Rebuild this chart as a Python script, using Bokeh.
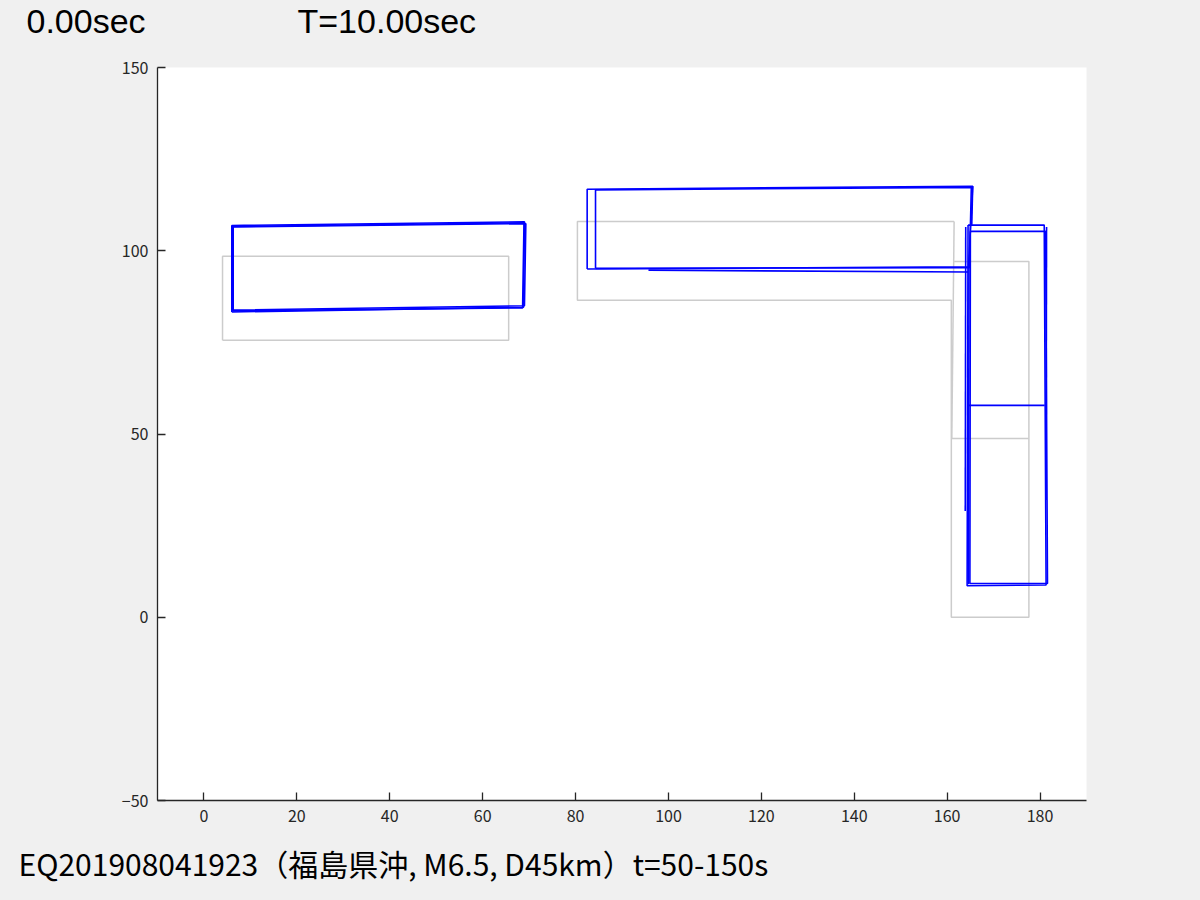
from bokeh.plotting import figure
from bokeh.models import FixedTicker, Range1d
from bokeh.layouts import column
from bokeh.core.properties import value
from bokeh.embed import file_html
from bokeh.resources import INLINE

# ---------------- data ----------------
x_ticks = [0, 20, 40, 60, 80, 100, 120, 140, 160, 180]
y_ticks = [-50, 0, 50, 100, 150]
y_tick_labels = {-50: "\u221250", 0: "0", 50: "50", 100: "100", 150: "150"}

# original (undeformed) plan, grey
gray_xs = [
    [4.0, 65.6, 65.6, 4.0, 4.0],
    [161.5, 80.4, 80.4, 160.9, 160.9, 177.6, 177.6, 161.5],
    [161.5, 161.0],
    [161.0, 177.6],
]
gray_ys = [
    [75.6, 75.6, 98.5, 98.5, 75.6],
    [108.0, 108.0, 86.5, 86.5, 0.0, 0.0, 97.1, 97.1],
    [108.0, 48.8],
    [48.8, 48.8],
]

# deformed plan, blue (several superimposed frames)
blue_xs = [
    # frame 1
    [6.0, 68.8, 69.0, 6.0, 6.0],
    [82.5, 164.6, 165.5, 82.5, 82.5],
    [165.5, 165.3],
    [164.5, 180.9, 181.3, 164.3, 164.5],
    [164.5, 181.0],
    # frame 2
    [6.3, 69.0, 69.3, 6.3, 6.3],
    [84.3, 164.8, 165.2, 84.3, 84.3],
    [165.0, 181.2, 181.6, 164.9, 165.0],
    # frame 3
    [6.1, 68.6, 68.9, 6.1, 6.1],
    [95.7, 164.5],
    [164.0, 163.9],
    [181.4, 181.3],
    [164.7, 164.6],
]
blue_ys = [
    [83.3, 84.6, 107.9, 106.9, 83.3],
    [95.0, 95.6, 117.6, 116.8, 95.0],
    [117.6, 107.0],
    [107.0, 107.0, 8.8, 8.6, 107.0],
    [57.8, 57.8],
    [83.8, 85.0, 107.4, 106.5, 83.8],
    [95.2, 95.4, 117.3, 116.6, 95.2],
    [105.3, 105.3, 9.2, 9.2, 105.3],
    [83.6, 84.4, 107.6, 106.6, 83.6],
    [94.7, 94.2],
    [106.5, 29.0],
    [106.5, 32.0],
    [95.6, 9.0],
]

time_text = "0.00sec"
period_text = "T=10.00sec"
caption = "EQ201908041923\uff08福島県沖, M6.5, D45km\uff09t=50-150s"

FONT = "Noto Sans CJK JP"
LATIN = "Liberation Sans"
BG = "#f0f0f0"


def text_strip(height):
    f = figure(width=1200, height=height, x_range=Range1d(0, 1200),
               y_range=Range1d(0, height), output_backend="svg",
               toolbar_location=None, min_border=0, frame_align=False,
               background_fill_color=BG, border_fill_color=BG)
    f.axis.visible = False
    f.grid.visible = False
    f.outline_line_color = None
    return f


# ---------------- top texts ----------------
top = text_strip(45)
top.text(x=[26, 297], y=[25, 25], text=[time_text, period_text],
         text_font=value(LATIN), text_font_size="34px", text_color="black",
         text_baseline="alphabetic", text_align="left")

# ---------------- main axes ----------------
p = figure(
    frame_width=929, frame_height=733,
    min_border_left=157, min_border_right=114,
    min_border_top=22, min_border_bottom=40,
    x_range=Range1d(-10, 190), y_range=Range1d(-50, 150),
    output_backend="svg", toolbar_location=None, frame_align=False,
    background_fill_color="white", border_fill_color=BG,
)
p.outline_line_color = None
p.grid.visible = False

p.multi_line(gray_xs, gray_ys, line_color="#cccccc", line_width=1.5)
p.multi_line(blue_xs, blue_ys, line_color="#0000ff", line_width=1.6)

for ax in (p.xaxis[0], p.yaxis[0]):
    ax.axis_line_color = "#262626"
    ax.axis_line_width = 1.3
    ax.major_tick_line_color = "#262626"
    ax.major_tick_line_width = 1.3
    ax.major_tick_in = 8
    ax.major_tick_out = 0
    ax.minor_tick_line_color = None
    ax.major_label_text_color = "#262626"
    ax.major_label_text_font = FONT
    ax.major_label_text_font_size = "16px"
    ax.major_label_standoff = 9

p.xaxis.ticker = FixedTicker(ticks=x_ticks)
p.yaxis.ticker = FixedTicker(ticks=y_ticks)
p.yaxis.major_label_overrides = y_tick_labels

# ---------------- bottom caption ----------------
bottom = text_strip(55)
bottom.text(x=[18], y=[33], text=[caption],
            text_font=value(FONT), text_font_size="30px", text_color="black",
            text_baseline="alphabetic", text_align="left")

layout = column(top, p, bottom, spacing=0)

html = file_html(layout, INLINE)
html = html.replace("</head>", "<style>html,body{background:#f0f0f0;}</style></head>", 1)
open("out.html", "w").write(html)
